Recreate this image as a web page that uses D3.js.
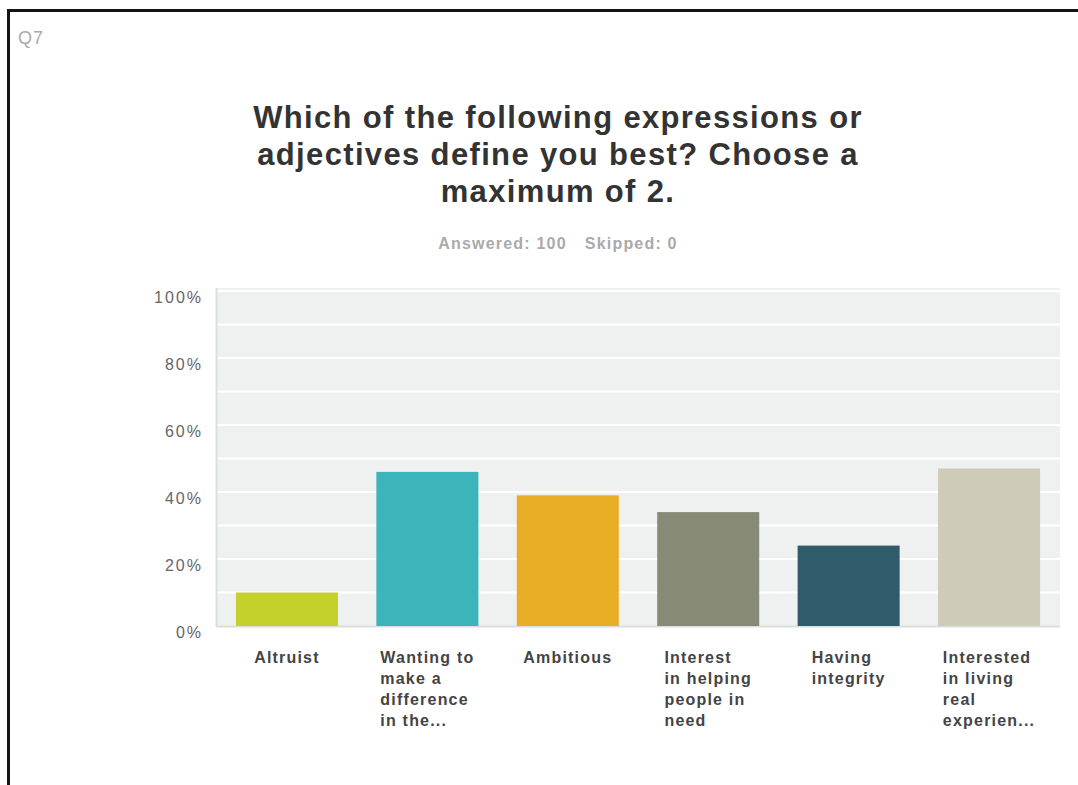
<!DOCTYPE html>
<meta charset="utf-8">
<style>
body {
  margin: 0;
  background: #fff;
}
svg {
  font-family: "Liberation Sans", Arial, Helvetica, sans-serif;
}
.title {
  fill: #333;
  font-weight: bold;
  font-size: 31px;
  letter-spacing: 1.35px;
}
.subtitle {
  fill: #aaa;
  font-weight: bold;
  font-size: 16px;
  letter-spacing: 1.2px;
}
.qnum {
  fill: #aaa;
  font-size: 18px;
  letter-spacing: 1px;
}
.y-label {
  fill: #666;
  font-size: 16px;
  letter-spacing: 2px;
}
.x-label {
  fill: #444;
  font-weight: bold;
  font-size: 16px;
  letter-spacing: 1.2px;
}
.grid line {
  stroke: #fff;
  stroke-width: 2;
}
</style>
<body>
<script src="https://cdnjs.cloudflare.com/ajax/libs/d3/7.8.5/d3.min.js"></script>
<script>

var width = 1078,
    height = 785,
    plotLeft = 216,
    plotRight = 1060,
    plotTop = 288;

var categories = ["Altruist", "Wanting to make a difference in the...", "Ambitious",
    "Interest in helping people in need", "Having integrity", "Interested in living real experien..."];
var labelLines = [
    ["Altruist"],
    ["Wanting to", "make a", "difference", "in the..."],
    ["Ambitious"],
    ["Interest", "in helping", "people in", "need"],
    ["Having", "integrity"],
    ["Interested", "in living", "real", "experien..."]
];
var values = [10, 46, 39, 34, 24, 47];
var barColors = ["#c4d02c", "#3bb4ba", "#e8ad24", "#868a76", "#2f5b6b", "#cecbb9"];
var yTicks = [0, 20, 40, 60, 80, 100];
var titleLines = ["Which of the following expressions or", "adjectives define you best? Choose a", "maximum of 2."];

var x = d3.scaleBand()
    .domain(categories)
    .range([plotLeft, plotRight])
    .paddingInner(0.2735)
    .paddingOuter(0.142);

var y = d3.scaleLinear()
    .domain([0, 100])
    .range([626, 291]);

var svg = d3.select("body").append("svg")
    .attr("width", width)
    .attr("height", height);

// frame (only top and left edges are in view)
svg.append("path")
    .attr("d", "M8.5," + height + "V10.5H" + width)
    .attr("fill", "none")
    .attr("stroke", "#151515")
    .attr("stroke-width", 3);

svg.append("text")
    .attr("class", "qnum")
    .attr("x", 18)
    .attr("y", 44)
    .text("Q7");

svg.append("g").selectAll("text")
    .data(titleLines).enter()
    .append("text")
    .attr("class", "title")
    .attr("text-anchor", "middle")
    .attr("x", 558)
    .attr("y", function(d, i) { return 128 + i * 37; })
    .text(function(d) { return d; });

var sub = svg.append("text")
    .attr("class", "subtitle")
    .attr("text-anchor", "middle")
    .attr("x", 558)
    .attr("y", 249);
sub.append("tspan").text("Answered: 100");
sub.append("tspan").attr("dx", 18).text("Skipped: 0");

// plot background
svg.append("rect")
    .attr("x", plotLeft)
    .attr("y", plotTop)
    .attr("width", plotRight - plotLeft)
    .attr("height", y(0) - plotTop)
    .attr("fill", "#eff0f0");

svg.append("g").attr("class", "grid")
    .selectAll("line")
    .data(y.ticks(10).filter(function(d) { return d > 0; })).enter()
    .append("line")
    .attr("x1", plotLeft)
    .attr("x2", plotRight)
    .attr("y1", function(d) { return y(d); })
    .attr("y2", function(d) { return y(d); });

// axis lines
svg.append("line")
    .attr("x1", plotLeft + 0.5).attr("x2", plotLeft + 0.5)
    .attr("y1", plotTop).attr("y2", y(0) + 1)
    .attr("stroke", "#dcdddd").attr("stroke-width", 2);
svg.append("line")
    .attr("x1", plotLeft).attr("x2", plotRight)
    .attr("y1", y(0) + 0.5).attr("y2", y(0) + 0.5)
    .attr("stroke", "#dcdddd").attr("stroke-width", 2);

svg.append("g").selectAll("rect")
    .data(values).enter()
    .append("rect")
    .attr("x", function(d, i) { return x(categories[i]); })
    .attr("width", x.bandwidth())
    .attr("y", function(d) { return y(d); })
    .attr("height", function(d) { return y(0) - y(d); })
    .attr("fill", function(d, i) { return barColors[i]; });

svg.append("g").selectAll("text")
    .data(yTicks).enter()
    .append("text")
    .attr("class", "y-label")
    .attr("text-anchor", "end")
    .attr("x", 203)
    .attr("y", function(d) { return y(d) + 12; })
    .text(function(d) { return d + "%"; });

// category labels: left-aligned lines, block centred under the bar
var labels = svg.append("g").selectAll("text")
    .data(categories).enter()
    .append("text")
    .attr("class", "x-label")
    .attr("y", 663);

labels.selectAll("tspan")
    .data(function(d, i) { return labelLines[i]; }).enter()
    .append("tspan")
    .attr("dy", function(d, i) { return i ? 21 : 0; })
    .text(function(d) { return d; });

labels.each(function(d) {
    var t = d3.select(this);
    var w = 0;
    t.selectAll("tspan").each(function() {
        w = Math.max(w, this.getComputedTextLength());
    });
    var left = x(d) + x.bandwidth() / 2 - w / 2;
    t.selectAll("tspan").attr("x", left);
});

</script>
